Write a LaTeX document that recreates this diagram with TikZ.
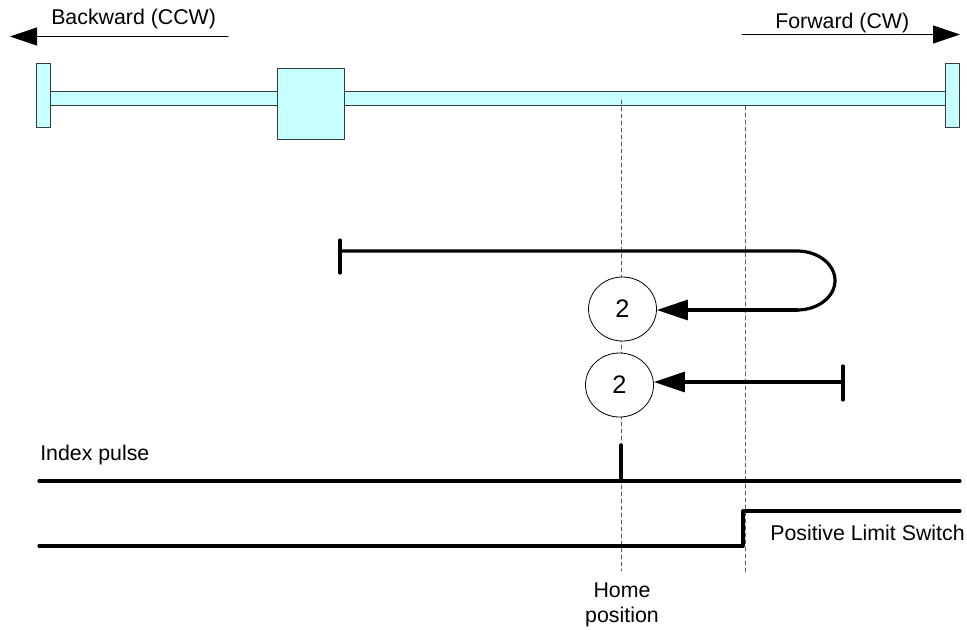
\documentclass[tikz,border=0pt]{standalone}
\usepackage{fontspec}
\setmainfont{Liberation Sans}
\usetikzlibrary{arrows.meta,shapes.geometric}
\definecolor{rodcyan}{RGB}{200,255,255}
\definecolor{rodedge}{RGB}{50,60,60}
\definecolor{guidegray}{RGB}{90,90,90}
\tikzset{
  rodpart/.style={draw=rodedge,fill=rodcyan,line width=0.75pt},
  dirline/.style={-{Triangle[length=20.25pt,width=13.5pt]},line width=0.75pt},
  moveline/.style={-{Triangle[length=23.25pt,width=15pt]},line width=2.4pt},
  heavy/.style={line width=2.4pt},
  guide/.style={color=guidegray,line width=0.6pt,dash pattern=on 3pt off 2.25pt},
  markcirc/.style={ellipse,draw,fill=white,line width=0.6pt,inner sep=0pt,minimum width=51pt,minimum height=48pt,font=\fontsize{19}{19}\selectfont},
  lbl/.style={inner sep=0pt,font=\fontsize{16}{18.75}\selectfont}
}
\begin{document}
\begin{tikzpicture}[line cap=round,line join=round,x=0.75pt,y=-0.75pt]
\useasboundingbox (0,0) rectangle (967,629);
% direction arrows
\coordinate (backS) at (228,36.5);
\coordinate (backE) at (10,36.5);
\coordinate (forwS) at (742,34.5);
\coordinate (forwE) at (960,34.5);
\draw[dirline] (backS) -- (backE);
\draw[dirline] (forwS) -- (forwE);
\node[lbl,anchor=base west] (backlbl) at (51,24.5) {Backward (CCW)};
\node[lbl,anchor=base west] (forwlbl) at (775,28) {Forward (CW)};
% rod
\draw[rodpart] (50,91) rectangle (945,105.5);
\draw[rodpart] (36,63) rectangle (50,127);
\draw[rodpart] (945,63) rectangle (959,127);
\draw[rodpart] (277,68) rectangle (344,139);
% guide lines
\coordinate (homeT) at (621,100);
\coordinate (homeB) at (621,571);
\coordinate (limT) at (745,106);
\coordinate (limB) at (745,573);
\draw[guide] (homeT) -- (homeB);
\draw[guide] (limT) -- (limB);
% travel
\node[markcirc] (markA) at (622.5,309) {2};
\node[markcirc] (markB) at (619.5,385) {2};
\coordinate (startA) at (340,251);
\coordinate (turnT) at (797,251);
\coordinate (turnB) at (797,310);
\coordinate (startB) at (843,382);
\draw[heavy] (340,240) -- (340,273);
\draw[heavy] (startA) -- (turnT) arc (-90:90:38 and 29.5);
\draw[moveline] (turnB) -- (turnB -| markA.east);
\draw[heavy] (843,366) -- (843,400);
\draw[moveline] (startB) -- (startB -| markB.east);
% signals
\coordinate (indexL) at (39,481);
\coordinate (indexR) at (960,481);
\coordinate (pulseT) at (621,445);
\coordinate (pulseB) at (621,481);
\draw[heavy] (indexL) -- (indexR);
\draw[heavy] (pulseT) -- (pulseB);
\coordinate (limL) at (39,546);
\coordinate (limS) at (743,546);
\coordinate (limU) at (743,511);
\coordinate (limR) at (960,511);
\draw[heavy] (limL) -- (limS) -- (limU) -- (limR);
\node[lbl,anchor=base west] (indexlbl) at (40,460) {Index pulse};
\node[lbl,anchor=base west] (limitlbl) at (770,540) {Positive Limit Switch};
\node[lbl,align=center,anchor=base] (homelbl) at (622,622) {Home\\position};
\end{tikzpicture}
\end{document}
